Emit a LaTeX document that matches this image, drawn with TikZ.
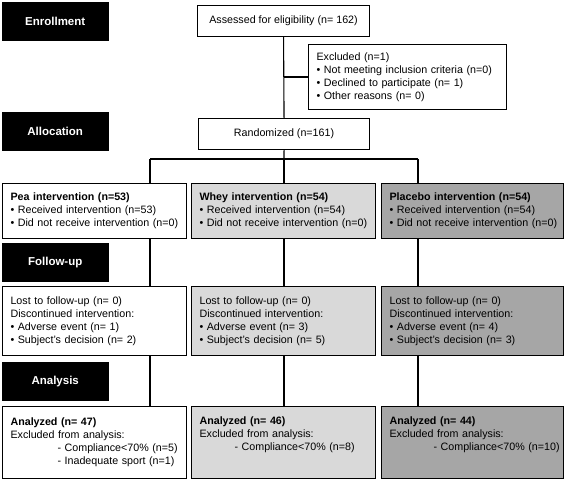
\documentclass[tikz,border=0pt]{standalone}
\usepackage{fontspec}
\setmainfont{Liberation Sans}
\definecolor{wheyc}{RGB}{217,217,217}
\definecolor{plac}{RGB}{166,166,166}
\newcommand{\tl}[1]{\mbox{#1}}
\begin{document}
\begin{tikzpicture}[x=1pt,y=-1pt,
  lbl/.style={fill=black, draw=black, text=white, font=\bfseries\fontsize{11.5}{13}\selectfont,
    minimum width=106, minimum height=38, inner sep=0, anchor=north west},
  box/.style={draw=black, line width=1.1pt, font=\fontsize{10.7}{13}\selectfont, inner sep=0, anchor=north west},
  tbox/.style={box, align=left, inner xsep=8, inner ysep=0},
  conn/.style={draw=black, line width=1.1pt}]
\useasboundingbox (0,0) rectangle (567,481);

% stage labels
\node[lbl] (enr) at (2,2) {Enrollment};
\node[lbl] (alloc) at (2,112) {Allocation};
\node[lbl] (foll) at (2,243) {Follow-up};
\node[lbl] (anal) at (2,362) {Analysis};

% top
\node[box, minimum width=172, minimum height=31] (assess) at (197,5) {Assessed for eligibility (n= 162)};
\node[tbox, minimum width=198, minimum height=65, text width=182] (excl) at (308,44)
  {\tl{Excluded (n=1)}\\
   \tl{\textbullet\ Not meeting inclusion criteria (n=0)}\\
   \tl{\textbullet\ Declined to participate (n= 1)}\\
   \tl{\textbullet\ Other reasons (n= 0)}};
\node[box, minimum width=171, minimum height=31] (rand) at (198,118) {Randomized (n=161)};

% allocation boxes
\node[tbox, minimum width=184, minimum height=55, text width=168] (pea) at (2,183)
  {\tl{\textbf{Pea intervention (n=53)}}\\
   \tl{\textbullet\ Received intervention (n=53)}\\
   \tl{\textbullet\ Did not receive intervention (n=0)}};
\node[tbox, fill=wheyc, minimum width=184, minimum height=55, text width=168] (whey) at (191,183)
  {\tl{\textbf{Whey intervention (n=54)}}\\
   \tl{\textbullet\ Received intervention (n=54)}\\
   \tl{\textbullet\ Did not receive intervention (n=0)}};
\node[tbox, fill=plac, minimum width=182, minimum height=55, text width=166] (plb) at (381,183)
  {\tl{\textbf{Placebo intervention (n=54)}}\\
   \tl{\textbullet\ Received intervention (n=54)}\\
   \tl{\textbullet\ Did not receive intervention (n=0)}};

% follow-up boxes
\node[tbox, minimum width=184, minimum height=69, text width=168] (fpea) at (2,286)
  {\tl{Lost to follow-up (n= 0)}\\
   \tl{Discontinued intervention:}\\
   \tl{\textbullet\ Adverse event (n= 1)}\\
   \tl{\textbullet\ Subject's decision (n= 2)}};
\node[tbox, fill=wheyc, minimum width=184, minimum height=69, text width=168] (fwhey) at (191,286)
  {\tl{Lost to follow-up (n= 0)}\\
   \tl{Discontinued intervention:}\\
   \tl{\textbullet\ Adverse event (n= 3)}\\
   \tl{\textbullet\ Subject's decision (n= 5)}};
\node[tbox, fill=plac, minimum width=182, minimum height=69, text width=166] (fplb) at (381,286)
  {\tl{Lost to follow-up (n= 0)}\\
   \tl{Discontinued intervention:}\\
   \tl{\textbullet\ Adverse event (n= 4)}\\
   \tl{\textbullet\ Subject's decision (n= 3)}};

% analysis boxes
\node[tbox, minimum width=184, minimum height=72, text width=168] (apea) at (2,406)
  {\tl{\textbf{Analyzed (n= 47)}}\\
   \tl{Excluded from analysis:}\\
   \tl{\hspace*{47pt}- Compliance<70\% (n=5)}\\
   \tl{\hspace*{47pt}- Inadequate sport (n=1)}};
\node[tbox, fill=wheyc, minimum width=184, minimum height=72, text width=168] (awhey) at (191,406)
  {\tl{\textbf{Analyzed (n= 46)}}\\
   \tl{Excluded from analysis:}\\
   \tl{\hspace*{35pt}- Compliance<70\% (n=8)}\\
   \strut};
\node[tbox, fill=plac, minimum width=182, minimum height=72, text width=166] (aplb) at (381,406)
  {\tl{\textbf{Analyzed (n= 44)}}\\
   \tl{Excluded from analysis:}\\
   \tl{\hspace*{44pt}- Compliance<70\% (n=10)}\\
   \strut};

% connectors
\coordinate (c1) at (150,159);
\coordinate (c2) at (284,159);
\coordinate (c3) at (418,159);
\draw[conn] (assess.south) -- (rand.north);
\draw[conn] (assess.south |- excl.west) -- (excl.west);
\draw[conn] (rand.south) -- (c2);
\draw[conn] (c1) -- (c3);
\draw[conn] (c1) -- (c1 |- pea.north);
\draw[conn] (c2) -- (c2 |- whey.north);
\draw[conn] (c3) -- (c3 |- plb.north);
\draw[conn] (c1 |- pea.south) -- (c1 |- fpea.north);
\draw[conn] (c2 |- whey.south) -- (c2 |- fwhey.north);
\draw[conn] (c3 |- plb.south) -- (c3 |- fplb.north);
\draw[conn] (c1 |- fpea.south) -- (c1 |- apea.north);
\draw[conn] (c2 |- fwhey.south) -- (c2 |- awhey.north);
\draw[conn] (c3 |- fplb.south) -- (c3 |- aplb.north);
\end{tikzpicture}
\end{document}
